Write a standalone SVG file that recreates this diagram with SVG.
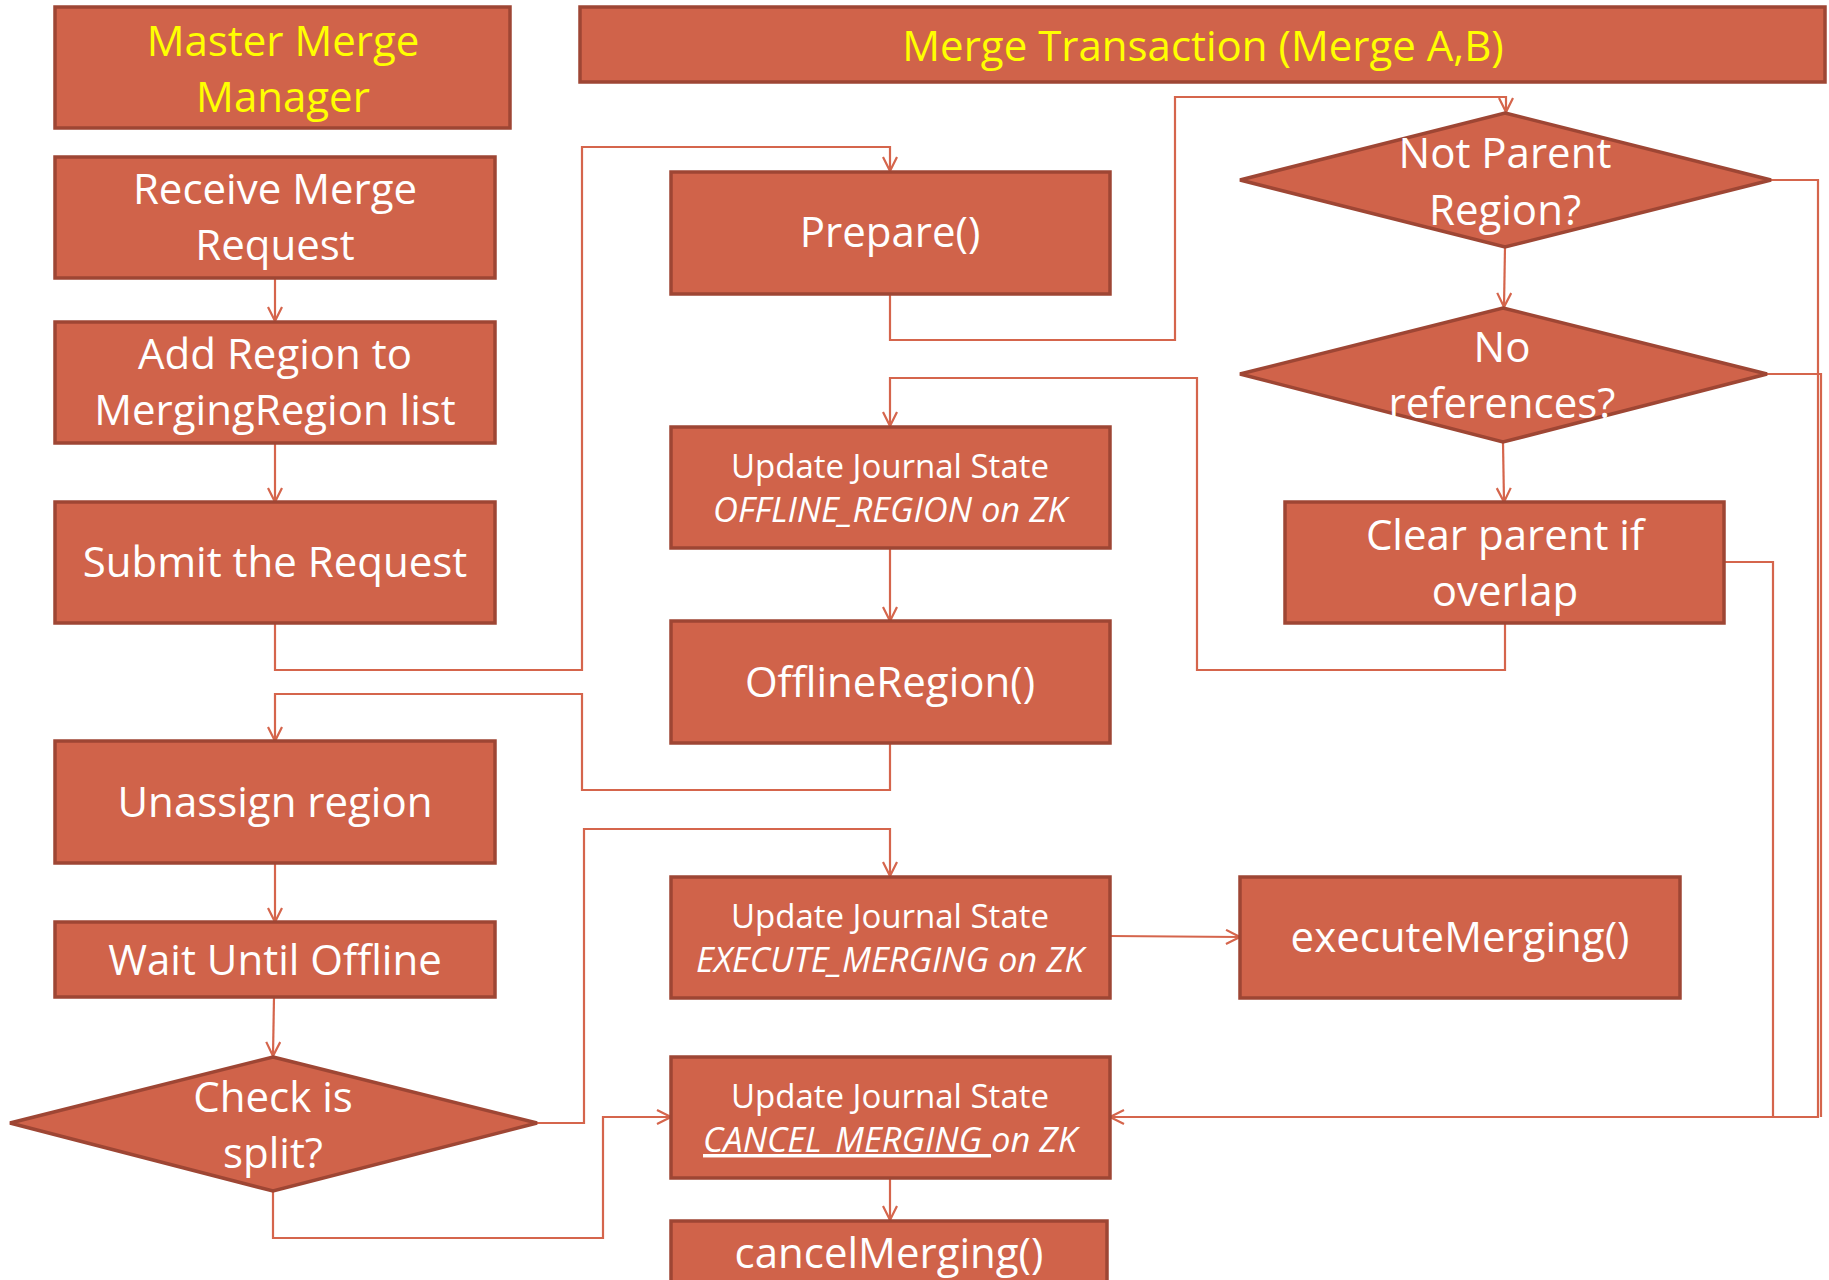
<svg xmlns="http://www.w3.org/2000/svg" width="1829" height="1280" viewBox="0 0 1829 1280">
<defs>
<style>
.n{fill:#D0634A;stroke:#9E4634;stroke-width:3.5;stroke-linejoin:miter}
.t{font-family:"Open Sans","Liberation Sans",sans-serif;font-size:42px;fill:#FFFFFF;text-anchor:middle}
.s{font-family:"Open Sans","Liberation Sans",sans-serif;font-size:33px;fill:#FFFFFF;text-anchor:middle}
.y{fill:#FFFF00}
.i{font-style:italic;font-size:34.5px}
.c{fill:none;stroke:#D5654C;stroke-width:2.2;marker-end:url(#ah)}
.p{fill:none;stroke:#D5654C;stroke-width:2.2}
</style>
<marker id="ah" markerUnits="userSpaceOnUse" markerWidth="18" markerHeight="18" refX="15" refY="8" orient="auto">
<path d="M1,1 L15,8 L1,15" fill="none" stroke="#D5654C" stroke-width="2.2"/>
</marker>
</defs>
<rect width="1829" height="1280" fill="#FFFFFF"/>

<g id="connectors">
<path class="c" d="M275,278 L275,321"/>
<path class="c" d="M275,443 L275,502"/>
<path class="c" d="M275,623 L275,670 L582,670 L582,147 L890,147 L890,171"/>
<path class="c" d="M890,294 L890,340 L1175,340 L1175,97 L1506,97 L1506,112"/>
<path class="c" d="M1505,247 L1504,307"/>
<path class="c" d="M1503,442 L1504,502"/>
<path class="c" d="M1505,623 L1505,670 L1197,670 L1197,378 L890,378 L890,426"/>
<path class="c" d="M890,548 L890,621"/>
<path class="c" d="M890,743 L890,790 L582,790 L582,694 L275,694 L275,741"/>
<path class="c" d="M275,863 L275,922"/>
<path class="c" d="M274,997 L273,1056"/>
<path class="c" d="M537,1123 L584,1123 L584,829 L890,829 L890,876"/>
<path class="c" d="M273,1192 L273,1238 L603,1238 L603,1117 L671,1117"/>
<path class="c" d="M1110,936 L1240,937"/>
<path class="c" d="M1771,180 L1818,180 L1818,1117 L1110,1117"/>
<path class="p" d="M1767,374 L1821,374 L1821,1117"/>
<path class="p" d="M1724,562 L1773,562 L1773,1117"/>
<path class="c" d="M890,1178 L890,1220"/>
</g>

<g id="master">
<rect class="n" x="55" y="7" width="455" height="121"/>
<text class="t y" x="283" y="56">Master Merge</text>
<text class="t y" x="283" y="112">Manager</text>
</g>
<g id="mergeTransaction">
<rect class="n" x="580" y="7" width="1245" height="75"/>
<text class="t y" x="1203" y="61">Merge Transaction (Merge A,B)</text>
</g>
<g id="receive">
<rect class="n" x="55" y="157" width="440" height="121"/>
<text class="t" x="275" y="204">Receive Merge</text>
<text class="t" x="275" y="260">Request</text>
</g>
<g id="addRegion">
<rect class="n" x="55" y="322" width="440" height="121"/>
<text class="t" x="275" y="369">Add Region to</text>
<text class="t" x="275" y="425">MergingRegion list</text>
</g>
<g id="submit">
<rect class="n" x="55" y="502" width="440" height="121"/>
<text class="t" x="275" y="577">Submit the Request</text>
</g>
<g id="unassign">
<rect class="n" x="55" y="741" width="440" height="122"/>
<text class="t" x="275" y="817">Unassign region</text>
</g>
<g id="wait">
<rect class="n" x="55" y="922" width="440" height="75"/>
<text class="t" x="275" y="975">Wait Until Offline</text>
</g>
<g id="checkSplit">
<polygon class="n" points="273,1057 537,1123 273,1191 10,1123"/>
<text class="t" x="273" y="1112">Check is</text>
<text class="t" x="273" y="1168">split?</text>
</g>
<g id="prepare">
<rect class="n" x="671" y="172" width="439" height="122"/>
<text class="t" x="890" y="247">Prepare()</text>
</g>
<g id="journalOffline">
<rect class="n" x="671" y="427" width="439" height="121"/>
<text class="s" x="890" y="478">Update Journal State</text>
<text class="s i" x="890" y="522">OFFLINE_REGION on ZK</text>
</g>
<g id="offlineRegion">
<rect class="n" x="671" y="621" width="439" height="122"/>
<text class="t" x="890" y="697">OfflineRegion()</text>
</g>
<g id="journalExecute">
<rect class="n" x="671" y="877" width="439" height="121"/>
<text class="s" x="890" y="928">Update Journal State</text>
<text class="s i" x="890" y="972">EXECUTE_MERGING on ZK</text>
</g>
<g id="journalCancel">
<rect class="n" x="671" y="1057" width="439" height="121"/>
<text class="s" x="890" y="1108">Update Journal State</text>
<text class="s i" x="890" y="1152"><tspan text-decoration="underline">CANCEL_MERGING </tspan>on ZK</text>
</g>
<g id="cancelMerging">
<rect class="n" x="671" y="1221" width="436" height="70"/>
<text class="t" x="889" y="1268">cancelMerging()</text>
</g>
<g id="notParent">
<polygon class="n" points="1505,113 1771,180 1505,247 1240,180"/>
<text class="t" x="1505" y="168">Not Parent</text>
<text class="t" x="1505" y="225">Region?</text>
</g>
<g id="noReferences">
<polygon class="n" points="1503,308 1767,374 1503,442 1240,374"/>
<text class="t" x="1502" y="362">No</text>
<text class="t" x="1502" y="418">references?</text>
</g>
<g id="clearParent">
<rect class="n" x="1285" y="502" width="439" height="121"/>
<text class="t" x="1505" y="550">Clear parent if</text>
<text class="t" x="1505" y="606">overlap</text>
</g>
<g id="executeMerging">
<rect class="n" x="1240" y="877" width="440" height="121"/>
<text class="t" x="1460" y="952">executeMerging()</text>
</g>
</svg>
